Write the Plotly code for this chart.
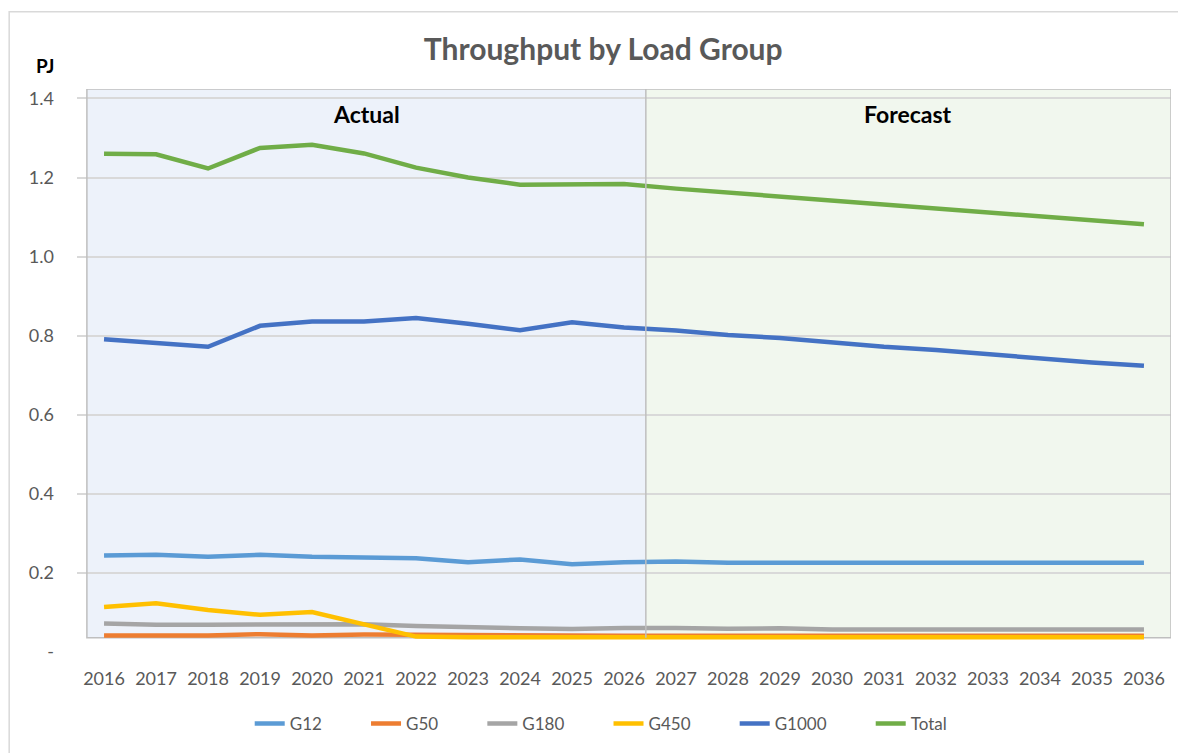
import plotly.graph_objects as go

# Dados
years = list(range(2016, 2037))

g12 = [0.244, 0.246, 0.241, 0.246, 0.241, 0.240, 0.237, 0.227, 0.234, 0.222, 0.227,
       0.229, 0.226, 0.226, 0.226, 0.226, 0.226, 0.226, 0.226, 0.226, 0.226]
g50 = [0.042, 0.042, 0.042, 0.045, 0.042, 0.044, 0.043, 0.044, 0.042, 0.040, 0.041,
       0.041, 0.041, 0.041, 0.041, 0.041, 0.041, 0.041, 0.041, 0.041, 0.041]
g180 = [0.072, 0.069, 0.069, 0.069, 0.069, 0.070, 0.066, 0.062, 0.060, 0.058, 0.061,
        0.061, 0.059, 0.060, 0.057, 0.057, 0.057, 0.057, 0.057, 0.057, 0.057]
g450 = [0.114, 0.123, 0.106, 0.094, 0.101, 0.071, 0.039, 0.037, 0.037, 0.037, 0.037,
        0.037, 0.037, 0.037, 0.037, 0.037, 0.037, 0.037, 0.037, 0.037, 0.037]
g1000 = [0.791, 0.782, 0.772, 0.825, 0.836, 0.836, 0.845, 0.830, 0.814, 0.834, 0.821,
         0.813, 0.802, 0.794, 0.783, 0.772, 0.764, 0.753, 0.744, 0.732, 0.724]
total = [1.260, 1.259, 1.223, 1.275, 1.283, 1.261, 1.225, 1.200, 1.182, 1.184, 1.184,
         1.172, 1.162, 1.153, 1.143, 1.133, 1.122, 1.112, 1.102, 1.091, 1.082]

series = [
    ("G12", g12, "#5B9BD5"),
    ("G50", g50, "#ED7D31"),
    ("G180", g180, "#A5A5A5"),
    ("G450", g450, "#FFC000"),
    ("G1000", g1000, "#4472C4"),
    ("Total", total, "#70AD47"),
]

y_ticks = [0, 0.2, 0.4, 0.6, 0.8, 1.0, 1.2, 1.4]
y_ticktext = ["-", "0.2", "0.4", "0.6", "0.8", "1.0", "1.2", "1.4"]

FONT = "Lato"
GREY = "#595959"
NB = "\u00a0"

fig = go.Figure()
for name, vals, color in series:
    fig.add_trace(go.Scatter(
        x=years, y=vals, name=name + NB * 9, mode="lines",
        line=dict(color=color, width=4.5),
    ))

# Regiões Actual / Forecast
split = 2026.42
x_left, x_right = 2015.67, 2036.52
y_bot, y_top = 0.036, 1.424
fig.add_shape(type="rect", x0=x_left, x1=split, y0=y_bot, y1=y_top,
              fillcolor="#EDF2FA", line_width=0, layer="below")
fig.add_shape(type="rect", x0=split, x1=x_right, y0=y_bot, y1=y_top,
              fillcolor="#F1F7EE", line_width=0, layer="below")
fig.add_shape(type="rect", x0=x_left, x1=x_right, y0=y_bot, y1=y_top,
              line=dict(color="#BFBFBF", width=1.5), layer="between")
fig.add_shape(type="line", x0=split, x1=split, y0=y_bot, y1=y_top,
              line=dict(color="#BFBFBF", width=1.5), layer="above")

# moldura externa
fig.add_shape(type="rect", xref="paper", yref="paper",
              x0=-0.062, x1=1.008, y0=-0.25, y1=1.137,
              line=dict(color="#D9D9D9", width=1.5), layer="below")

fig.add_annotation(x=(x_left + split) / 2, y=1.36, text="<b>Actual</b>",
                   showarrow=False, font=dict(family=FONT, size=23, color="#000000"))
fig.add_annotation(x=(split + x_right) / 2, y=1.36, text="<b>Forecast</b>",
                   showarrow=False, font=dict(family=FONT, size=23, color="#000000"))
fig.add_annotation(xref="paper", yref="paper", x=-0.029, y=1.041, text="<b>PJ</b>",
                   showarrow=False, xanchor="center", yanchor="middle",
                   font=dict(family=FONT, size=19, color="#000000"))
# cabeçalho cortado no topo da página
fig.add_annotation(xref="paper", yref="paper", x=-0.012, y=1.137, text="<b>Throughput</b>",
                   showarrow=False, xanchor="left", yanchor="bottom",
                   font=dict(family=FONT, size=26, color="#4472C4"))

fig.update_layout(
    width=1186, height=753,
    margin=dict(l=69, r=23, t=81, b=109),
    paper_bgcolor="white", plot_bgcolor="white",
    title=dict(text="<b>Throughput by Load Group</b>", x=0.481, xref="paper",
               xanchor="center", y=0.945, yanchor="middle",
               font=dict(family=FONT, size=30, color=GREY)),
    font=dict(family=FONT, color=GREY),
    showlegend=True,
    legend=dict(orientation="h", x=0.497, xanchor="center", y=-0.128, yanchor="middle",
                font=dict(family=FONT, size=17, color=GREY), bgcolor="rgba(0,0,0,0)",
                itemwidth=30),
)
fig.update_xaxes(range=[2015.48, 2036.52], tickvals=years, showgrid=False,
                 zeroline=False, showline=False, ticks="",
                 tickfont=dict(family=FONT, size=18, color=GREY), ticklabelstandoff=14)
fig.update_yaxes(range=[0, 1.424], tickvals=y_ticks, ticktext=y_ticktext,
                 showgrid=True, gridcolor="#D9D9D9", gridwidth=1.5,
                 zeroline=False, showline=False, ticks="",
                 tickfont=dict(family=FONT, size=18, color=GREY), ticklabelstandoff=22)

fig.write_html("out.html")
